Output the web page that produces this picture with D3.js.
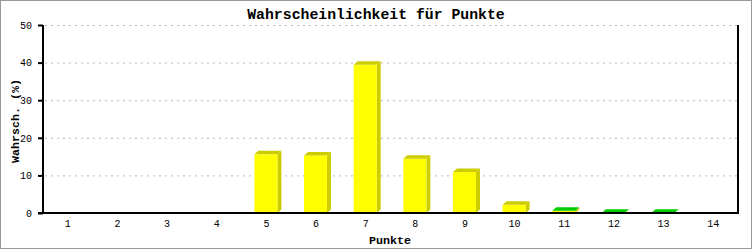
<!DOCTYPE html>
<html>
<head>
<meta charset="utf-8">
<script src="https://cdn.jsdelivr.net/npm/d3@7"></script>
<style>
  body { margin: 0; background: #fff; }
  svg text { font-family: "Liberation Mono", "DejaVu Sans Mono", monospace; fill: #000; }
</style>
</head>
<body>
<svg id="chart" width="753" height="250"></svg>
<script>
// data
var punkte = ["1","2","3","4","5","6","7","8","9","10","11","12","13","14"];
var wahrsch = [0, 0, 0, 0, 15.6, 15.3, 39.4, 14.4, 10.9, 2.2, 0.6, 0.05, 0.05, 0];
var yTicks = [0, 10, 20, 30, 40, 50];

var svg = d3.select("#chart");

svg.append("rect")
    .attr("x", 0.5).attr("y", 0.5)
    .attr("width", 751).attr("height", 248)
    .attr("fill", "#fff")
    .attr("stroke", "#999");

// plot area (note: "top" is reserved on window)
var pLeft = 43, pRight = 738, pTop = 25, pBottom = 213;

var x = d3.scaleBand().domain(punkte).range([pLeft, pRight]).padding(0);
var y = d3.scaleLinear().domain([0, 50]).range([pBottom, pTop]);

// grid
svg.append("g").selectAll("line")
    .data(yTicks.filter(function(d) { return d > 0; }))
    .enter().append("line")
    .attr("x1", pLeft + 2).attr("x2", pRight)
    .attr("y1", function(d) { return y(d) + 0.5; })
    .attr("y2", function(d) { return y(d) + 0.5; })
    .attr("stroke", "#bbb")
    .attr("stroke-dasharray", "2,4");

// bars (pseudo 3d)
var dx = 4, dy = 3.5, bw = 23;
var bars = svg.append("g").selectAll("g")
    .data(punkte.map(function(p, i) { return {p: p, v: wahrsch[i]}; }).filter(function(d) { return d.v > 0; }))
    .enter().append("g");

bars.each(function(d) {
    var g = d3.select(this);
    var x0 = x(d.p) + x.bandwidth() / 2 - 12,
        y0 = y(d.v),
        small = d.v < 1;
    g.append("polygon")
        .attr("points", [[x0 + bw, y0], [x0 + bw + dx, y0 - dy], [x0 + bw + dx, pBottom - dy], [x0 + bw, pBottom]].join(" "))
        .attr("fill", "#cccc00");
    g.append("rect")
        .attr("x", x0).attr("y", y0)
        .attr("width", bw).attr("height", pBottom - y0)
        .attr("fill", "#ffff00");
    g.append("polygon")
        .attr("points", [[x0, y0], [x0 + dx, y0 - dy], [x0 + bw + dx, y0 - dy], [x0 + bw, y0]].join(" "))
        .attr("fill", small ? "#00cc00" : "#cccc00");
});

// axes
var yAxis = svg.append("g")
    .attr("transform", "translate(" + pLeft + ",0)")
    .call(d3.axisLeft(y).tickValues(yTicks).tickSize(5).tickPadding(6));
yAxis.select(".domain").remove();
yAxis.selectAll("line").attr("stroke", "#000").attr("stroke-width", 2);
yAxis.selectAll("text").style("font-size", "10px");

var xAxis = svg.append("g")
    .attr("transform", "translate(0," + pBottom + ")")
    .call(d3.axisBottom(x).tickSize(0).tickPadding(7));
xAxis.select(".domain").remove();
xAxis.selectAll("text").style("font-size", "10px");

svg.append("line")
    .attr("x1", pLeft).attr("x2", pLeft).attr("y1", pTop).attr("y2", pBottom)
    .attr("stroke", "#000").attr("stroke-width", 2);
svg.append("line")
    .attr("x1", pRight).attr("x2", pRight).attr("y1", pTop).attr("y2", pBottom)
    .attr("stroke", "#000").attr("stroke-width", 2);
svg.append("line")
    .attr("x1", pLeft - 5).attr("x2", pRight + 1).attr("y1", pBottom).attr("y2", pBottom)
    .attr("stroke", "#000").attr("stroke-width", 2);

// titles
svg.append("text")
    .attr("x", 376).attr("y", 19)
    .attr("text-anchor", "middle")
    .style("font-size", "14.8px").style("font-weight", "bold")
    .text("Wahrscheinlichkeit für Punkte");

svg.append("text")
    .attr("x", 390).attr("y", 244)
    .attr("text-anchor", "middle")
    .style("font-size", "11.7px").style("font-weight", "bold")
    .text("Punkte");

svg.append("text")
    .attr("transform", "translate(19,121) rotate(-90)")
    .attr("text-anchor", "middle")
    .style("font-size", "11.7px").style("font-weight", "bold")
    .text("Wahrsch. (%)");
</script>
</body>
</html>
